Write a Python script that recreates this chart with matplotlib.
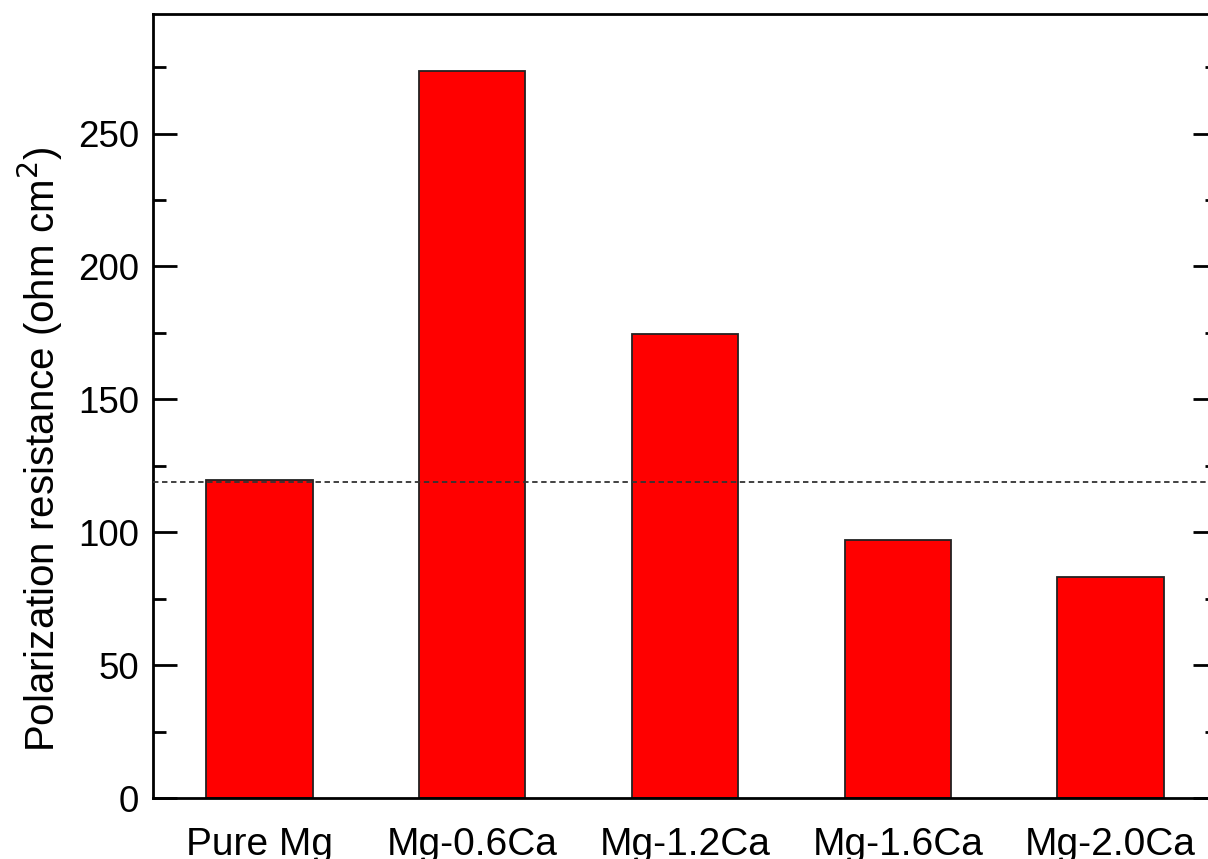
import matplotlib.pyplot as plt
from matplotlib.ticker import MultipleLocator

plt.rcParams['font.family'] = ['Liberation Sans', 'DejaVu Sans']

# data
alloys = ['Pure Mg', 'Mg-0.6Ca', 'Mg-1.2Ca', 'Mg-1.6Ca', 'Mg-2.0Ca']
resistance = [119.5, 273.5, 174.5, 97, 83]
pure_mg_level = 119

fig = plt.figure(figsize=(12.08, 8.59), dpi=100)
# axes runs slightly past the right edge like in the cropped original
ax = fig.add_axes([153 / 1208, 61 / 859, (1217 - 153) / 1208, (798 - 14) / 859])

pos = list(range(1, len(alloys) + 1))
ax.bar(pos, resistance, width=0.5, color='#ff0000', edgecolor='#222222', linewidth=1.3, zorder=2)
ax.axhline(pure_mg_level, color='#333333', linestyle=(0, (3, 2)), linewidth=1.3, zorder=3)

ax.set_xlim(0.5, 5.5)
ax.set_ylim(0, 295)
ax.set_xticks(pos)
ax.set_xticklabels(alloys)
ax.yaxis.set_major_locator(MultipleLocator(50))
ax.yaxis.set_minor_locator(MultipleLocator(25))

ax.tick_params(axis='x', length=0, pad=21, labelsize=28)
ax.tick_params(axis='y', which='major', direction='in', length=17, width=2, right=True, labelsize=26.5, pad=10)
ax.tick_params(axis='y', which='minor', direction='in', length=9, width=2, right=True)
for s in ax.spines.values():
    s.set_linewidth(2)

ax.set_ylabel('Polarization resistance (ohm cm$^2$)', fontsize=29)
ax.yaxis.set_label_coords(-0.083, 0.445)

fig.savefig('out.png', dpi=100)
